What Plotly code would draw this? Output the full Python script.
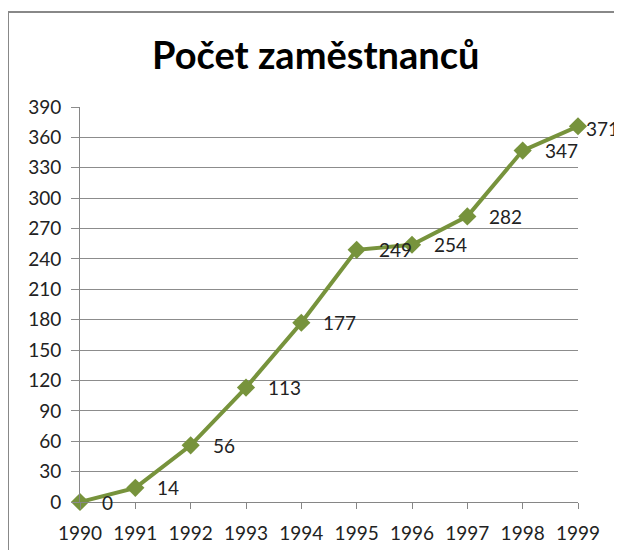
import plotly.graph_objects as go

years = ["1990", "1991", "1992", "1993", "1994", "1995", "1996", "1997", "1998", "1999"]
employees = [0, 14, 56, 113, 177, 249, 254, 282, 347, 371]
y_ticks = list(range(0, 391, 30))

# page is offset by the 8px body margin; figure coords = page coords - 8
OFF = 8
W, H = 622, 550
L, T = 80 - OFF, 107 - OFF
R, B = W - (578 - OFF), H - (502 - OFF)
pw, ph = W - L - R, H - T - B

def px_x(p):
    return (p - OFF - L) / pw

def px_y(p):
    return (H - B - (p - OFF)) / ph

green = "#77933C"
xs = list(range(len(years)))
fig = go.Figure(go.Scatter(
    x=xs, y=employees,
    mode="lines+markers",
    line=dict(color=green, width=4),
    marker=dict(symbol="diamond", size=14, color=green),
    cliponaxis=False,
    hoverinfo="skip",
))

for xi, v in zip(xs, employees):
    last = xi == xs[-1]
    fig.add_annotation(x=xi, y=v, text=str(v), showarrow=False,
                       xanchor="left", yanchor="middle",
                       xshift=6 if last else 20, yshift=-2 if last else 0,
                       font=dict(family="Lato", size=19, color="#222222"))

fig.add_annotation(xref="paper", yref="paper", x=px_x(316), y=px_y(54),
                   text="<b>Počet zaměstnanců</b>", showarrow=False,
                   xanchor="center", yanchor="middle",
                   font=dict(family="Lato", size=38, color="black"))

fig.update_layout(
    width=W, height=H,
    margin=dict(l=L, r=R, t=T, b=B),
    paper_bgcolor="white", plot_bgcolor="white",
    showlegend=False,
    font=dict(family="Lato", size=19, color="#222222"),
)
fig.update_xaxes(
    range=[0, len(years) - 1],
    tickmode="array", tickvals=xs, ticktext=years,
    showgrid=False, showline=True, linecolor="#868686", linewidth=1,
    ticks="outside", ticklen=6, tickcolor="#868686",
    ticklabelstandoff=8,
    zeroline=False, fixedrange=True,
)
fig.update_yaxes(
    range=[0, 390], tickmode="array", tickvals=y_ticks,
    showgrid=True, gridcolor="#8c8c8c", gridwidth=1,
    showline=True, linecolor="#868686", linewidth=1,
    ticks="outside", ticklen=8, tickcolor="#8c8c8c",
    ticklabelstandoff=6,
    zeroline=False, fixedrange=True,
)
# outer chart border (cropped at right and bottom)
fig.add_shape(type="line", xref="paper", yref="paper",
              x0=px_x(8), x1=px_x(640), y0=px_y(12), y1=px_y(12),
              line=dict(color="#888888", width=2))
fig.add_shape(type="line", xref="paper", yref="paper",
              x0=px_x(8), x1=px_x(8), y0=px_y(12), y1=px_y(570),
              line=dict(color="#888888", width=2))

fig.write_html("out.html")
